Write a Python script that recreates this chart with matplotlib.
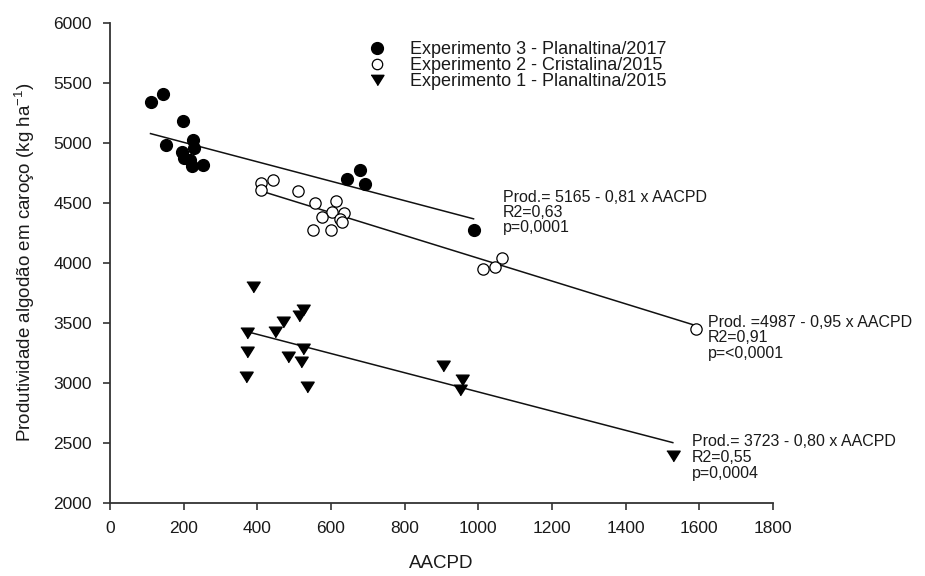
import matplotlib
matplotlib.use("Agg")
import matplotlib.pyplot as plt
import numpy as np
from matplotlib.lines import Line2D

plt.rcParams['font.family'] = ['Liberation Sans', 'DejaVu Sans']
plt.rcParams['mathtext.fontset'] = 'custom'
plt.rcParams['mathtext.rm'] = 'Liberation Sans'
plt.rcParams['mathtext.it'] = 'Liberation Sans:italic'

# Experimento 3 - Planaltina/2017 (filled circles)
exp3_x = [110, 145, 197, 151, 224, 228, 195, 201, 217, 222, 252, 643, 679, 692, 987]
exp3_y = [5336, 5406, 5183, 4983, 5025, 4956, 4919, 4872, 4856, 4808, 4817, 4697, 4775, 4656, 4275]

# Experimento 2 - Cristalina/2015 (open circles)
exp2_x = [409, 409, 443, 511, 557, 614, 602, 635, 575, 624, 631, 550, 600, 1012, 1044, 1063, 1590]
exp2_y = [4661, 4606, 4692, 4600, 4497, 4517, 4425, 4414, 4378, 4364, 4336, 4272, 4272, 3947, 3961, 4039, 3450]

# Experimento 1 - Planaltina/2015 (triangles)
exp1_x = [387, 523, 514, 471, 448, 371, 371, 525, 484, 519, 369, 534, 905, 955, 949, 1528]
exp1_y = [3795, 3606, 3558, 3503, 3419, 3411, 3253, 3281, 3217, 3169, 3050, 2967, 3142, 3022, 2939, 2386]

# Regression coefficients (intercept, slope)
reg3 = (5165, -0.81)
reg2 = (4987, -0.95)
reg1 = (3723, -0.80)

labels = ["Experimento 3 - Planaltina/2017",
          "Experimento 2 - Cristalina/2015",
          "Experimento 1 - Planaltina/2015"]
eq_texts = ["Prod.= 5165 - 0,81 x AACPD\nR2=0,63\np=0,0001",
            "Prod. =4987 - 0,95 x AACPD\nR2=0,91\np=<0,0001",
            "Prod.= 3723 - 0,80 x AACPD\nR2=0,55\np=0,0004"]

xticks = [0, 200, 400, 600, 800, 1000, 1200, 1400, 1600, 1800]
yticks = [2000, 2500, 3000, 3500, 4000, 4500, 5000, 5500, 6000]

W, H = 925, 576
fig = plt.figure(figsize=(W/100, H/100), dpi=100)
ax = fig.add_axes([110/W, 1-502.7/H, (773-110)/W, (502.7-22.7)/H])

txtc = '#1a1a1a'
tri = [(-1, 0.8), (1, 0.8), (0, -0.8)]

def regline(xs, reg):
    x0, x1 = min(xs), max(xs)
    xx = np.array([x0, x1], dtype=float)
    ax.plot(xx, reg[0] + reg[1]*xx, color='#111111', lw=1.1, zorder=2)

regline(exp3_x, reg3)
regline(exp2_x, reg2)
regline(exp1_x, reg1)

ax.scatter(exp3_x, exp3_y, s=72, marker='o', color='black', zorder=3)
ax.scatter(exp2_x, exp2_y, s=66, marker='o', facecolors='white', edgecolors='black', linewidths=0.9, zorder=3)
ax.scatter(exp1_x, exp1_y, s=92, marker=tri, color='black', zorder=3)

ax.set_xlim(0, 1800)
ax.set_ylim(2000, 6000)
ax.set_xticks(xticks)
ax.set_yticks(yticks)
ax.tick_params(direction='out', length=5, width=1.2, labelsize=12.5, colors='#333333', labelcolor=txtc, pad=8)
for s in ['top', 'right']:
    ax.spines[s].set_visible(False)
for s in ['left', 'bottom']:
    ax.spines[s].set_linewidth(1.3)
    ax.spines[s].set_color('#333333')

ax.set_xlabel("AACPD", fontsize=13.5, color=txtc, labelpad=14)
ax.set_ylabel("Produtividade algodão em caroço (kg ha$^{-1}$)", fontsize=13.5, color=txtc, labelpad=12)

ax.text(1067, 4417, eq_texts[0], fontsize=11.5, color=txtc, ha='left', va='center', linespacing=1.0)
ax.text(1624, 3375, eq_texts[1], fontsize=11.5, color=txtc, ha='left', va='center', linespacing=1.05)
ax.text(1580, 2375, eq_texts[2], fontsize=11.5, color=txtc, ha='left', va='center', linespacing=1.08)

# manual legend
leg_styles = [dict(marker='o', color='black', markersize=8.5),
              dict(marker='o', markerfacecolor='white', markeredgecolor='black', markersize=7.5, markeredgewidth=0.9),
              dict(marker=tri, color='black', markersize=9.3)]
row_y = [48, 64, 80]
for lab, st, ry in zip(labels, leg_styles, row_y):
    fig.add_artist(Line2D([377/W], [1-ry/H], ls='none', transform=fig.transFigure, **st))
    fig.text(410/W, 1-ry/H, lab, fontsize=13, color=txtc, ha='left', va='center_baseline')

fig.savefig("out.png", dpi=100)
